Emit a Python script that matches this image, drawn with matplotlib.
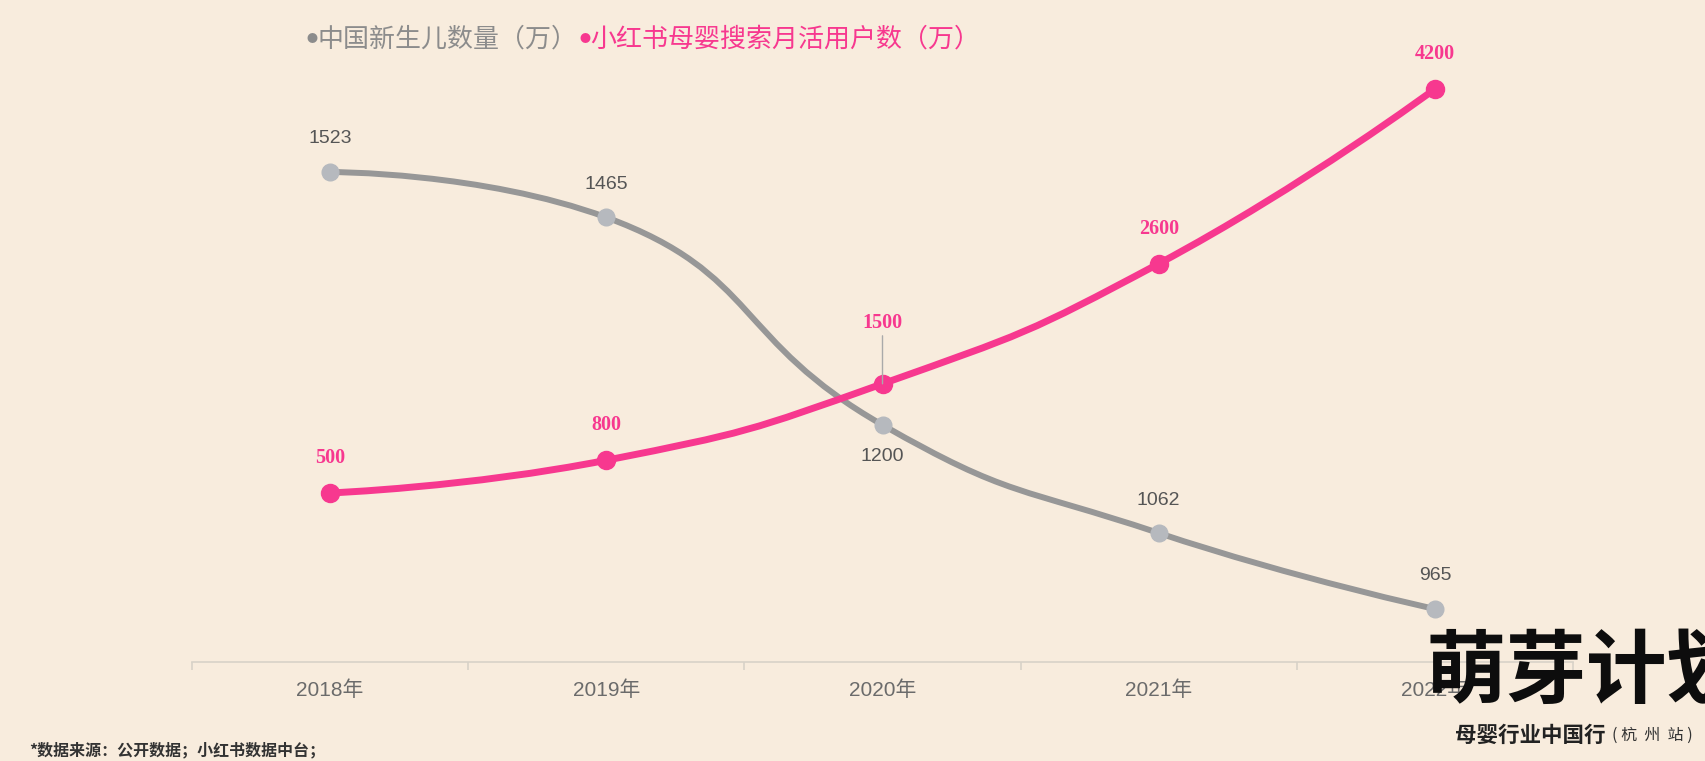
import math
import matplotlib
matplotlib.use('Agg')
import matplotlib.pyplot as plt
from matplotlib.path import Path
from matplotlib.patches import PathPatch

# ---- data ----
years = ['2018年', '2019年', '2020年', '2021年', '2022年']
births = [1523, 1465, 1200, 1062, 965]          # 中国新生儿数量（万）
users = [500, 800, 1500, 2600, 4200]            # 小红书母婴搜索月活用户数（万）
legend_births = '中国新生儿数量（万）'
legend_users = '小红书母婴搜索月活用户数（万）'
footnote = '*数据来源：公开数据；小红书数据中台；'
logo_main = '萌芽计划'
logo_sub = '母婴行业中国行'
logo_sub2 = '( 杭  州  站 )'

# ---- style ----
BG = '#f8ecdd'
GRAY_LINE = '#979797'
GRAY_MARK = '#b6b9be'
PINK = '#f7388f'
CJK = ['Noto Sans CJK SC', 'DejaVu Sans']
SANS = ['Liberation Sans', 'Noto Sans CJK SC']

W, H = 1706, 761
fig = plt.figure(figsize=(W / 100, H / 100), dpi=100)
fig.patch.set_facecolor(BG)

ax_left, ax_right, ax_top, ax_bot = 192, 1573, 40, 662
ax = fig.add_axes([ax_left / W, (H - ax_bot) / H, (ax_right - ax_left) / W, (ax_bot - ax_top) / H])
ax2 = ax.twinx()
for a in (ax, ax2):
    a.set_facecolor('none')
    for s in a.spines.values():
        s.set_visible(False)
    a.set_yticks([])

ax.set_xlim(-0.5, 4.5)
ax.set_ylim(897.3, 1691.5)
ax2.set_ylim(-1047.8, 4648.7)

px_per_x = (ax_right - ax_left) / 5.0
ax_h = ax_bot - ax_top
sy_g = ax_h / (1691.5 - 897.3)
sy_p = ax_h / (4648.7 + 1047.8)


def smooth_path(xs, ys, sx, sy, smooth=0.5):
    P = [(x * sx, y * sy) for x, y in zip(xs, ys)]
    verts = [P[0]]
    codes = [Path.MOVETO]
    cp0 = P[0]
    n = len(P)
    for k in range(1, n):
        x, y = P[k]
        px, py = P[k - 1]
        if k == n - 1:
            cp1 = (x, y)
            nxt = None
        else:
            nx, ny = P[k + 1]
            vx, vy = nx - px, ny - py
            l0 = math.hypot(x - px, y - py)
            l1 = math.hypot(nx - x, ny - y)
            r = l1 / (l0 + l1)
            ncx = x + vx * smooth * r
            ncy = y + vy * smooth * r
            ncx = min(ncx, max(nx, x)); ncy = min(ncy, max(ny, y))
            ncx = max(ncx, min(nx, x)); ncy = max(ncy, min(ny, y))
            vx, vy = ncx - x, ncy - y
            c1x = x - vx * l0 / l1
            c1y = y - vy * l0 / l1
            c1x = min(c1x, max(px, x)); c1y = min(c1y, max(py, y))
            c1x = max(c1x, min(px, x)); c1y = max(c1y, min(py, y))
            vx, vy = x - c1x, y - c1y
            ncx = x + vx * l1 / l0
            ncy = y + vy * l1 / l0
            cp1 = (c1x, c1y)
            nxt = (ncx, ncy)
        verts += [cp0, cp1, (x, y)]
        codes += [Path.CURVE4] * 3
        cp0 = nxt
    return Path([(a / sx, b / sy) for a, b in verts], codes)


xs = list(range(len(years)))

# gray series
ax.add_patch(PathPatch(smooth_path(xs, births, px_per_x, sy_g), fill=False,
                       edgecolor=GRAY_LINE, lw=4.3, capstyle='round', joinstyle='round', zorder=2))
ax.plot(xs, births, ls='none', marker='o', ms=12, mfc=GRAY_MARK, mec=GRAY_MARK, zorder=3)
for i, v in enumerate(births):
    off = -32 if i == 2 else 33
    ax.annotate(str(v), (i, v), xytext=(0, off), textcoords='offset pixels',
                ha='center', va='center', fontsize=14, color='#555555', family=SANS)

# pink series
ax2.add_patch(PathPatch(smooth_path(xs, users, px_per_x, sy_p), fill=False,
                        edgecolor=PINK, lw=5.0, capstyle='round', joinstyle='round', zorder=2))
ax2.plot(xs, users, ls='none', marker='o', ms=13, mfc=PINK, mec=PINK, zorder=3)
for i, v in enumerate(users):
    if i == 2:
        ax2.annotate('', (i, v), xytext=(0, 48), textcoords='offset pixels',
                     arrowprops=dict(arrowstyle='-', color='#aaaaaa', lw=1, shrinkA=0, shrinkB=0))
        off = 61
    else:
        off = 35
    ax2.annotate(str(v), (i, v), xytext=(0, off), textcoords='offset pixels',
                 ha='center', va='center', fontsize=14.5, color=PINK,
                 family='Liberation Serif', fontweight='bold')

# x axis
ax.spines['bottom'].set_visible(True)
ax.spines['bottom'].set_color('#d8d2c8')
ax.spines['bottom'].set_linewidth(1.2)
ax.set_xticks(xs)
ax.set_xticklabels(years, fontsize=15, color='#6b6b6b', family=SANS)
ax.set_xticks([i - 0.5 for i in range(len(years) + 1)], minor=True)
ax.tick_params(axis='x', which='major', length=0, pad=13)
ax.tick_params(axis='x', which='minor', length=6, color='#d8d2c8', width=1.2)

# legend
ly = 1 - 39 / H
fig.text(307 / W, ly, '●', fontsize=8, color='#8c8c8c', ha='left', va='center', family=CJK)
fig.text(317 / W, ly, legend_births, fontsize=18.7, color='#8c8c8c', fontweight='medium',
         ha='left', va='center', family=CJK)
fig.text(580 / W, ly, '●', fontsize=8, color=PINK, ha='left', va='center', family=CJK)
fig.text(590 / W, ly, legend_users, fontsize=18.7, color=PINK, fontweight='medium',
         ha='left', va='center', family=CJK)

# footnote
fig.text(29 / W, 1 - 750 / H, footnote, fontsize=11.5, color='#333333', fontweight='bold',
         ha='left', va='center', family=CJK)

# logo
fig.text(1426 / W, 1 - 673 / H, logo_main, fontsize=58, color='#0d0d0d', fontweight='heavy',
         ha='left', va='center', family=CJK, zorder=10)
fig.text(1455 / W, 1 - 735 / H, logo_sub, fontsize=15.5, color='#222222', fontweight='bold',
         ha='left', va='center', family=CJK, zorder=10)
fig.text(1612 / W, 1 - 735 / H, logo_sub2, fontsize=11.5, color='#333333',
         ha='left', va='center', family=CJK, zorder=10)

fig.savefig('out.png', dpi=100, facecolor=BG)
